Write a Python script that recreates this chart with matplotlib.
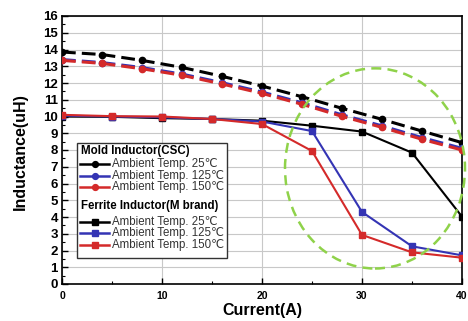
import matplotlib
matplotlib.use("Agg")
import matplotlib.pyplot as plt
from matplotlib.patches import Ellipse, Rectangle
from matplotlib.lines import Line2D

plt.rcParams['font.family'] = ['Liberation Sans', 'DejaVu Sans']

# Mold inductor (CSC) measurements
mold_current = [0, 4, 8, 12, 16, 20, 24, 28, 32, 36, 40]
mold_25 = [13.85, 13.7, 13.35, 12.93, 12.4, 11.82, 11.18, 10.49, 9.83, 9.13, 8.44]
mold_125 = [13.4, 13.22, 12.92, 12.53, 12.02, 11.46, 10.82, 10.1, 9.44, 8.74, 8.1]
mold_150 = [13.35, 13.17, 12.85, 12.46, 11.94, 11.38, 10.73, 10.01, 9.35, 8.64, 8.0]

# Ferrite inductor (M brand) measurements
ferrite_current = [0, 5, 10, 15, 20, 25, 30, 35, 40]
ferrite_25 = [10.0, 9.98, 9.9, 9.85, 9.75, 9.45, 9.1, 7.84, 4.02]
ferrite_125 = [10.05, 10.0, 9.95, 9.85, 9.7, 9.13, 4.3, 2.25, 1.71]
ferrite_150 = [10.1, 10.02, 10.0, 9.85, 9.55, 7.94, 2.93, 1.89, 1.57]

temps = ["Ambient Temp. 25\u2103", "Ambient Temp. 125\u2103", "Ambient Temp. 150\u2103"]
colors = ["#000000", "#3434b4", "#d42a2a"]

fig = plt.figure(figsize=(4.68, 3.21), dpi=100)
ax = fig.add_axes([62/468, 1 - 284/321, 400/468, 268/321])

dash = (0, (4.5, 2.0))
for ys, c in zip([mold_25, mold_125, mold_150], colors):
    ax.plot(mold_current, ys, color=c, lw=2.2, linestyle=dash,
            marker='o', ms=4.5, mfc=c, mec=c, zorder=4)
for ys, c in zip([ferrite_25, ferrite_125, ferrite_150], colors):
    ax.plot(ferrite_current, ys, color=c, lw=1.5, linestyle='-',
            marker='s', ms=4.2, mfc=c, mec=c, zorder=4)

ax.add_patch(Ellipse((31.3, 6.9), 18.0, 11.95, fill=False,
                     edgecolor='#8fd24a', lw=1.8, linestyle=(0, (4, 2.5)),
                     clip_on=False, zorder=5))

ax.set_xlim(0, 40)
ax.set_ylim(0, 16)
ax.set_xticks([0, 10, 20, 30, 40])
ax.set_xticks([5, 15, 25, 35], minor=True)
ax.set_yticks(range(0, 17))
ax.set_yticks([i + 0.5 for i in range(16)], minor=True)
ax.tick_params(which='both', direction='in', top=False, right=False)
ax.tick_params(which='major', length=4, width=1)
ax.tick_params(which='minor', length=2.5, width=0.8)
ax.tick_params(axis='x', which='major', labelsize=7.5, pad=5)
ax.tick_params(axis='y', which='major', labelsize=9.5, pad=3)
for lab in ax.get_xticklabels() + ax.get_yticklabels():
    lab.set_fontweight('bold')
ax.grid(True, which='major', color='#c8c8c8', lw=0.8)
ax.set_axisbelow(True)
for s in ax.spines.values():
    s.set_linewidth(1.2)

ax.set_xlabel("Current(A)", fontsize=11.5, fontweight='bold', va='center')
ax.set_ylabel("Inductance(uH)", fontsize=11.5, fontweight='bold', va='center')
ax.xaxis.set_label_coords((262 - 62) / 400, -(311 - 284) / 268)
ax.yaxis.set_label_coords((20 - 62) / 400, (284 - 152) / 268)

# Legend box with two groups
def fx(px):
    return (px - 62) / 400

def fy(py):
    return (284 - py) / 268

ax.add_patch(Rectangle((fx(77), fy(258)), fx(227) - fx(77), fy(143) - fy(258),
                       transform=ax.transAxes, facecolor='white',
                       edgecolor='#333333', lw=1.0, zorder=6))

groups = [("Mold Inductor(CSC)", 151, [164.3, 175.7, 187.3], 'o', 4.2),
          ("Ferrite Inductor(M brand)", 205.7, [221.7, 233.3, 245.0], 's', 3.8)]
for title, ty, rows, mk, ms in groups:
    ax.text(fx(81), fy(ty), title, transform=ax.transAxes, fontsize=8.3,
            fontweight='bold', va='center', ha='left', zorder=7)
    for ry, c, label in zip(rows, colors, temps):
        ax.add_line(Line2D([fx(80), fx(109)], [fy(ry), fy(ry)], color=c,
                           lw=1.8, transform=ax.transAxes, zorder=7))
        ax.add_line(Line2D([fx(94.5)], [fy(ry)], color=c, marker=mk, ms=ms,
                           transform=ax.transAxes, zorder=7))
        ax.text(fx(112), fy(ry), label, transform=ax.transAxes, fontsize=8.3,
                color='#333333', va='center', ha='left', zorder=7)

fig.savefig("out.png", dpi=100)
